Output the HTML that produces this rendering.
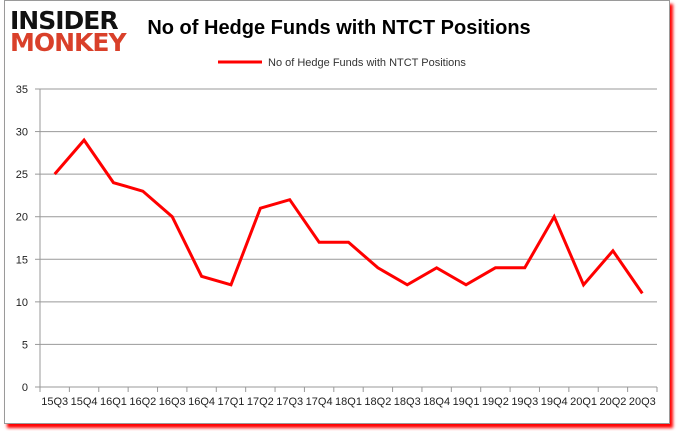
<!DOCTYPE html>
<html><head><meta charset="utf-8"><style>
body{margin:0;background:#fff;width:678px;height:431px;overflow:hidden;font-family:"Liberation Sans",sans-serif}
#frame{position:absolute;left:4px;top:0;width:664px;height:422px;border:1px solid #9a9a9a;box-shadow:3px 4px 3px #f00;background:#fff}
</style></head><body>
<div id="frame"></div>
<svg width="678" height="431" style="position:absolute;left:0;top:0" id="chart">
<text x="10" y="29" font-size="25" font-weight="bold" fill="#111" font-family="DejaVu Sans, sans-serif" letter-spacing="-1">INSIDER</text>
<text x="10" y="51" font-size="25" font-weight="bold" fill="#d9402a" font-family="DejaVu Sans, sans-serif" letter-spacing="-1">MONKEY</text>
<text x="339" y="34" font-size="20" font-weight="bold" text-anchor="middle" fill="#000">No of Hedge Funds with NTCT Positions</text>
<line x1="218" y1="62" x2="262" y2="62" stroke="#f00" stroke-width="3"/>
<text x="268" y="66" font-size="11" fill="#333">No of Hedge Funds with NTCT Positions</text>
<g id="grid"></g><g id="axes"></g><g id="series"></g>
</svg>
<script>
const categories=["15Q3","15Q4","16Q1","16Q2","16Q3","16Q4","17Q1","17Q2","17Q3","17Q4","18Q1","18Q2","18Q3","18Q4","19Q1","19Q2","19Q3","19Q4","20Q1","20Q2","20Q3"];
const values=[25,29,24,23,20,13,12,21,22,17,17,14,12,14,12,14,14,20,12,16,11];
const yTicks=[0,5,10,15,20,25,30,35];
const L=40,R=657,T=89,B=387,YMAX=35;
const band=(R-L)/categories.length;
const x=i=>L+band*(i+0.5);
const y=v=>B-(B-T)*v/YMAX;
const ns="http://www.w3.org/2000/svg";
function mk(t,a,p){const e=document.createElementNS(ns,t);for(const k in a)e.setAttribute(k,a[k]);p.appendChild(e);return e;}
const grid=document.getElementById('grid'),axes=document.getElementById('axes'),series=document.getElementById('series');
yTicks.forEach(v=>{
 if(v>0){const g=mk('line',{x1:L,x2:R,y1:y(v),y2:y(v),stroke:'#999','stroke-width':1},grid);
 
 }
 const tk=mk('line',{x1:L-5,x2:L,y1:y(v),y2:y(v),stroke:'#999'},axes);
 
 
 const t=mk('text',{x:L-12,y:y(v)+4,'font-size':11,'text-anchor':'end',fill:'#222'},axes);
 t.textContent=v;
 
 
});
const ya=mk('line',{x1:L,x2:L,y1:T,y2:B,stroke:'#999'},axes);


const xa=mk('line',{x1:L,x2:R,y1:B,y2:B,stroke:'#999'},axes);


categories.forEach((c,i)=>{
 const tk=mk('line',{x1:L+band*i,x2:L+band*i,y1:B,y2:B+5,stroke:'#999'},axes);
 
 
 const t=mk('text',{x:x(i),y:B+18,'font-size':11,'text-anchor':'middle',fill:'#222'},axes);
 t.textContent=c;
 
 
});
const tk2=mk('line',{x1:R,x2:R,y1:B,y2:B+5,stroke:'#999'},axes);


const pl=mk('polyline',{points:values.map((v,i)=>x(i)+','+y(v)).join(' '),fill:'none',stroke:'#f00','stroke-width':3,'stroke-linejoin':'miter'},series);


</script>
</body></html>
